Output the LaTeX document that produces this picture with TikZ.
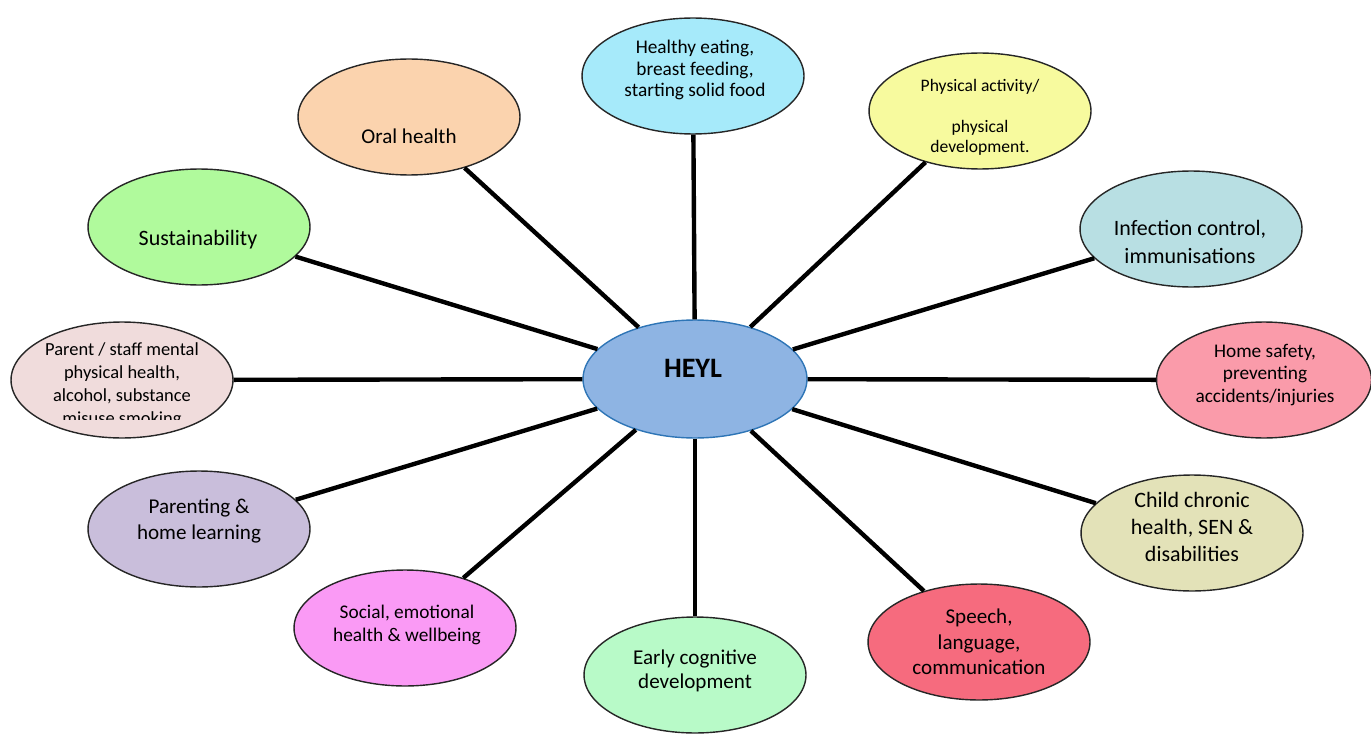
\documentclass[tikz,border=0pt]{standalone}
\usepackage{fontspec}
\setmainfont{Carlito}
\usetikzlibrary{shapes.geometric,backgrounds}
\definecolor{heylColor}{HTML}{8EB4E3}
\definecolor{heylBorder}{HTML}{2E75B6}
\definecolor{eatingColor}{HTML}{A6EAFA}
\definecolor{activityColor}{HTML}{F7FA9E}
\definecolor{infectionColor}{HTML}{B8DFE3}
\definecolor{safetyColor}{HTML}{FA9BAA}
\definecolor{chronicColor}{HTML}{E3E2B8}
\definecolor{speechColor}{HTML}{F66B7E}
\definecolor{cognitiveColor}{HTML}{B8FAC8}
\definecolor{socialColor}{HTML}{FA9AF5}
\definecolor{parentingColor}{HTML}{C9BEDB}
\definecolor{staffColor}{HTML}{F0DCDC}
\definecolor{sustainColor}{HTML}{B0FA9C}
\definecolor{oralColor}{HTML}{FBD3AE}

\begin{document}
\begin{tikzpicture}[%
    x=0.02cm,y=-0.02cm,align=center]
    \tikzstyle{bubble}=[ellipse,draw=black!85,line width=0.8pt,%
      minimum width=4.44cm,minimum height=2.32cm,inner sep=0pt]
    \tikzstyle{caption}=[inner sep=0pt,font=\fontsize{12}{14.5}\selectfont]
    \tikzstyle{smallCaption}=[inner sep=0pt,font=\fontsize{10.5}{13}\selectfont]
    \tikzstyle{spoke}=[line width=2.5pt]
    \useasboundingbox (0,0) rectangle (1371,733);
    % All bubbles
    \node (heyl) [bubble,fill=heylColor,draw=heylBorder,minimum width=4.48cm,minimum height=2.36cm] at (695,379) {};
    \node (eating) [bubble,fill=eatingColor]       at (693,76)   {};
    \node (activity) [bubble,fill=activityColor]   at (980,111)  {};
    \node (infection) [bubble,fill=infectionColor] at (1191,229) {};
    \node (safety) [bubble,fill=safetyColor,minimum width=4.3cm] at (1264,380) {};
    \node (chronic) [bubble,fill=chronicColor]     at (1192,533) {};
    \node (speech) [bubble,fill=speechColor]       at (979,642)  {};
    \node (cognitive) [bubble,fill=cognitiveColor] at (695,675)  {};
    \node (social) [bubble,fill=socialColor]       at (405,628)  {};
    \node (parenting) [bubble,fill=parentingColor] at (199,529)  {};
    \node (staff) [bubble,fill=staffColor]         at (122,380)  {};
    \node (sustain) [bubble,fill=sustainColor]     at (199,227)  {};
    \node (oral) [bubble,fill=oralColor]           at (409,117)  {};
    % All captions
    \node (heylText) [inner sep=0pt,font=\fontsize{16}{18}\selectfont\bfseries] at (693,368) {HEYL};
    \node (eatingText) [caption,font=\fontsize{11}{12.2}\selectfont] at (695,70) {Healthy eating,\\ breast feeding,\\ starting solid food};
    \node (activityText) [caption,font=\fontsize{10}{11.3}\selectfont] at (980,117) {Physical activity/\\[12pt] physical\\ development.};
    \node (infectionText) [caption,font=\fontsize{12.5}{16}\selectfont] at (1190,242) {Infection control,\\ immunisations};
    \node (safetyText) [smallCaption,font=\fontsize{11}{13}\selectfont] at (1265,375) {Home safety,\\ preventing\\ accidents/injuries};
    \node (chronicText) [caption,font=\fontsize{12.5}{15.5}\selectfont] at (1192,527) {Child chronic\\ health, SEN \&\\ disabilities};
    \node (speechText) [caption] at (979,642) {Speech,\\ language,\\ communication};
    \node (cognitiveText) [caption,font=\fontsize{12}{14}\selectfont] at (695,671) {Early cognitive\\ development};
    \node (socialText) [smallCaption,font=\fontsize{11}{13.5}\selectfont] at (407,625) {Social, emotional\\ health \& wellbeing};
    \node (parentingText) [caption] at (199,521) {Parenting \&\\ home learning};
    \begin{scope}
      \clip (0,300) rectangle (260,419);
      \node (staffText) [smallCaption] at (122,385) {Parent / staff mental\\ physical health,\\ alcohol, substance\\ misuse smoking};
    \end{scope}
    \node (sustainText) [caption,font=\fontsize{12.5}{15}\selectfont] at (198,240) {Sustainability};
    \node (oralText) [caption] at (409,136) {Oral health};
    % Edges
    \draw [spoke] (heyl) -- (eating);
    \draw [spoke] (heyl) -- (activity);
    \draw [spoke] (heyl) -- (infection);
    \draw [spoke] (heyl) -- (safety);
    \draw [spoke] (heyl) -- (chronic);
    \draw [spoke] (heyl) -- (speech);
    \draw [spoke] (heyl) -- (cognitive);
    \draw [spoke] (heyl) -- (social);
    \draw [spoke] (heyl) -- (parenting);
    \draw [spoke] (heyl) -- (staff);
    \draw [spoke] (heyl) -- (sustain);
    \draw [spoke] (heyl) -- (oral);
  \end{tikzpicture}
\end{document}
